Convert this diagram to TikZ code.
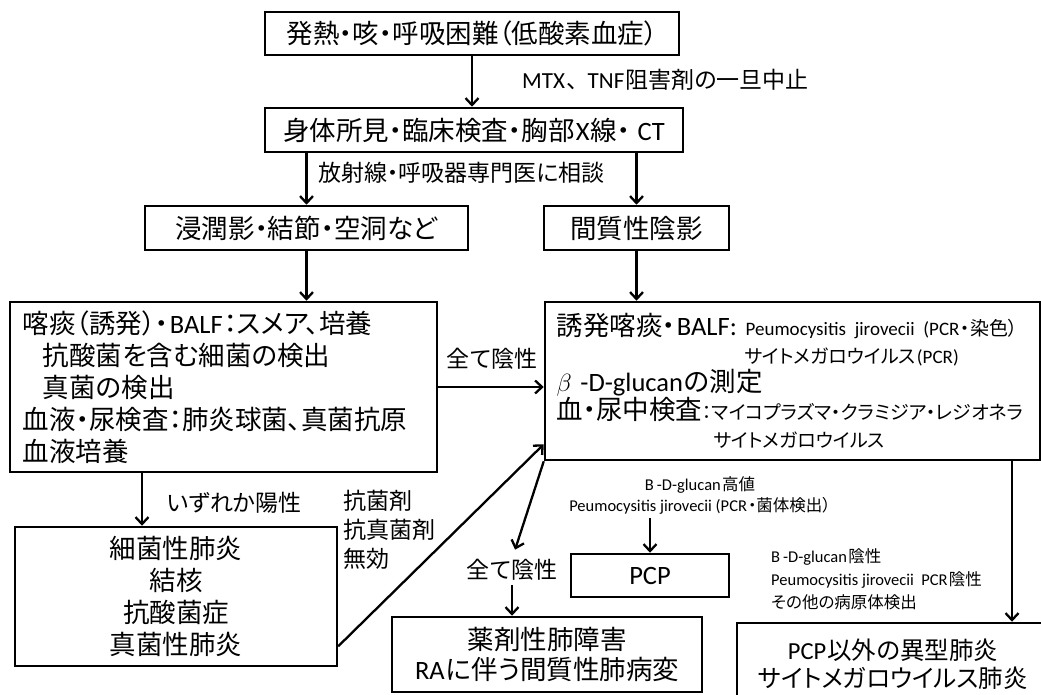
\documentclass[tikz,border=0pt]{standalone}
\usepackage{fontspec}
\setmainfont{Carlito}
\newfontfamily\latfont{Carlito}
\newfontfamily\jpfont{Noto Sans CJK JP}[RawFeature={+palt}]
\XeTeXinterchartokenstate=1
\chardef\jpcls=7
\newcount\cccnt
\def\setjprange#1#2{\cccnt=#1 \loop\XeTeXcharclass\cccnt=\jpcls \advance\cccnt by 1 \ifnum\cccnt<#2 \repeat}
\setjprange{"3000}{"3100}
\setjprange{"4E00}{"A000}
\setjprange{"FF00}{"FFF0}
\XeTeXinterchartoks 0 \jpcls = {\kern1.2pt\jpfont}
\XeTeXinterchartoks 4095 \jpcls = {\jpfont}
\XeTeXinterchartoks \jpcls 0 = {\kern1.2pt\latfont}
\XeTeXinterchartoks 4095 0 = {\latfont}
\usetikzlibrary{arrows.meta,calc}
\newcommand\bigf{\fontsize{26.5}{32}\selectfont}
\newcommand\labf{\fontsize{23}{29}\selectfont}
\newcommand\annf{\fontsize{16.5}{21}\selectfont}
\newcommand\smf{\fontsize{19}{22}\selectfont}
\begin{document}
\begin{tikzpicture}[x=1pt,y=-1pt,
  box/.style={draw,line width=2.5pt,rectangle,inner sep=0pt,align=center,font=\bigf},
  arr/.style={line width=2.3pt,-{Straight Barb[length=7pt,width=13pt]}},
  lab/.style={inner sep=0pt,font=\labf},
  ann/.style={inner sep=0pt,font=\annf,align=center}]
\path[use as bounding box] (0,0) rectangle (1041,695);
\clip (0,0) rectangle (1041,695);

\node[box,minimum width=414pt,minimum height=43pt] (top) at (472,33.5) {発熱・咳・呼吸困難（低酸素血症）};
\node[box,minimum width=418pt,minimum height=44pt] (exam) at (474,130) {身体所見・臨床検査・胸部X線・\kern7pt CT};
\node[lab,anchor=west] (mtx) at (522,80) {MTX、\kern10pt TNF阻害剤の一旦中止};
\draw[arr] (top.south) -- (top.south |- exam.north);

\node[box,minimum width=323pt,minimum height=44pt] (inf) at (306.5,228) {浸潤影・結節・空洞など};
\node[box,minimum width=185pt,minimum height=44pt] (int) at (636.5,228) {間質性陰影};
\node[lab,anchor=west] (cons) at (318,173) {放射線・呼吸器専門医に相談};
\draw[arr] (exam.south -| inf.north) -- (inf.north);
\draw[arr] (exam.south -| int.north) -- (int.north);

\node[box,minimum width=427pt,minimum height=170pt,text width=401pt,align=left] (spu) at (223.5,387)
 {喀痰（誘発）・BALF：スメア、培養\\
  \hspace*{20pt}抗酸菌を含む細菌の検出\\
  \hspace*{20pt}真菌の検出\\
  血液・尿検査：肺炎球菌、真菌抗原\\
  血液培養};
\node[box,minimum width=495pt,minimum height=158pt,text width=472pt,align=left] (bal) at (792.5,381)
 {\mbox{誘発喀痰・BALF: {\smf Peumocysitis jirovecii (PCR・染色）}}\\[-4pt]
  \mbox{\hspace*{188pt}{\smf サイトメガロウイルス(PCR)}}\\[-4pt]
  \mbox{\(\beta\) -D-glucanの測定}\\[-4pt]
  \mbox{血・尿中検査{\smf ：マイコプラズマ・クラミジア・レジオネラ}}\\[-4pt]
  \mbox{\hspace*{157pt}{\smf サイトメガロウイルス}}};
\draw[arr] (inf.south) -- (inf.south |- spu.north);
\draw[arr] (int.south) -- (int.south |- bal.north);
\draw[arr] (spu.east) -- (spu.east -| bal.west);
\node[lab] (neg1) at (492,359) {全て陰性};

\node[box,minimum width=322pt,minimum height=139pt] (dis) at (176,596.5)
 {細菌性肺炎\\結核\\抗酸菌症\\真菌性肺炎};
\coordinate (p1) at (142,472);
\draw[arr] (p1) -- (p1 |- dis.north);
\node[lab,anchor=west] (pos) at (167,503) {いずれか陽性};
\node[lab,anchor=north west,align=left] (abx) at (343,490) {抗菌剤\\抗真菌剤\\無効};
\draw[arr] ([yshift=21pt]dis.south east) -- ([yshift=17pt]bal.south west);

\node[lab] (neg2) at (512,570) {全て陰性};
\node[box,minimum width=310pt,minimum height=75pt] (drug) at (547,654.5)
 {薬剤性肺障害\\[-2pt]RAに伴う間質性肺病変};
\draw[arr,shorten >=10pt] (bal.south west) -- (neg2.north);
\draw[arr,shorten <=4pt] (neg2.south) -- (neg2.south |- drug.north);

\node[ann] (hi) at (700,495) {Β\kern3pt-D-glucan高値\\Peumocysitis jirovecii (PCR・菌体検出）};
\node[box,minimum width=158pt,minimum height=43pt] (pcp) at (650,575.5) {PCP};
\draw[arr,shorten <=4pt] (pcp.north |- hi.south) -- (pcp.north);

\node[ann,anchor=north west,align=left] (lo) at (771,548)
 {Β\kern3pt-D-glucan陰性\\[2pt]Peumocysitis jirovecii\ \ PCR陰性\\[2pt]その他の病原体検出};
\node[box,minimum width=312pt,minimum height=82pt,font=\fontsize{24.5}{32}\selectfont] (oth) at (893,664)
 {PCP以外の異型肺炎\\[-4pt]サイトメガロウイルス肺炎};
\coordinate (p2) at (1012,460);
\draw[arr] (p2) -- (p2 |- oth.north);
\end{tikzpicture}
\end{document}
